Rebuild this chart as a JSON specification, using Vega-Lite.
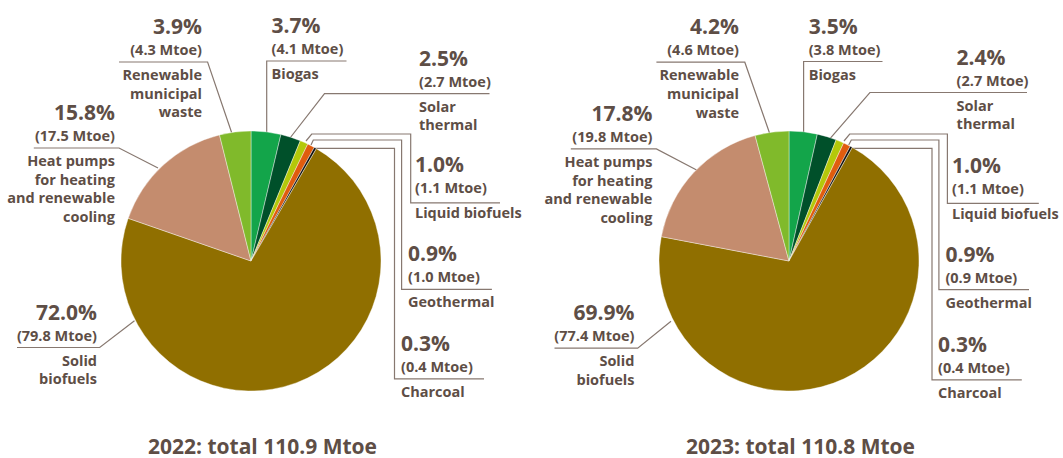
{
  "$schema": "https://vega.github.io/schema/vega-lite/v6.json",
  "padding": 0,
  "background": "#ffffff",
  "config": {"view": {"stroke": null}, "font": "Open Sans"},
  "datasets": {
    "titles": [
      {"year": 2022, "title": "2022: total 110.9 Mtoe"},
      {"year": 2023, "title": "2023: total 110.8 Mtoe"}
    ],
    "rows": [
      {"kind": "slice", "year": 2022, "cat": "Biogas", "ord": 1, "value": 3.7, "pct": "3.7%", "mtoe": "(4.1 Mtoe)", "lines": ["Biogas"], "tx": 20.5, "ty": -200},
      {"kind": "slice", "year": 2022, "cat": "Solar thermal", "ord": 2, "value": 2.5, "pct": "2.5%", "mtoe": "(2.7 Mtoe)", "lines": ["Solar", "thermal"], "tx": 168, "ty": -167.4},
      {"kind": "slice", "year": 2022, "cat": "Liquid biofuels", "ord": 3, "value": 1.0, "pct": "1.0%", "mtoe": "(1.1 Mtoe)", "lines": ["Liquid biofuels"], "tx": 164, "ty": -61},
      {"kind": "slice", "year": 2022, "cat": "Geothermal", "ord": 4, "value": 0.9, "pct": "0.9%", "mtoe": "(1.0 Mtoe)", "lines": ["Geothermal"], "tx": 157, "ty": 28.3},
      {"kind": "slice", "year": 2022, "cat": "Charcoal", "ord": 5, "value": 0.3, "pct": "0.3%", "mtoe": "(0.4 Mtoe)", "lines": ["Charcoal"], "tx": 150, "ty": 118},
      {"kind": "slice", "year": 2022, "cat": "Solid biofuels", "ord": 6, "value": 72.0, "pct": "72.0%", "mtoe": "(79.8 Mtoe)", "lines": ["Solid", "biofuels"], "tx": -154, "ty": 86.5},
      {"kind": "slice", "year": 2022, "cat": "Heat pumps", "ord": 7, "value": 15.8, "pct": "15.8%", "mtoe": "(17.5 Mtoe)", "lines": ["Heat pumps\u00a0", "for heating", "and renewable", "cooling"], "tx": -136, "ty": -113},
      {"kind": "slice", "year": 2022, "cat": "Renewable municipal waste", "ord": 8, "value": 3.9, "pct": "3.9%", "mtoe": "(4.3 Mtoe)", "lines": ["Renewable\u00a0", "municipal\u00a0", "waste"], "tx": -49, "ty": -199},
      {"kind": "slice", "year": 2023, "cat": "Biogas", "ord": 1, "value": 3.5, "pct": "3.5%", "mtoe": "(3.8 Mtoe)", "lines": ["Biogas"], "tx": 19.7, "ty": -199.5},
      {"kind": "slice", "year": 2023, "cat": "Solar thermal", "ord": 2, "value": 2.4, "pct": "2.4%", "mtoe": "(2.7 Mtoe)", "lines": ["Solar", "thermal"], "tx": 167.6, "ty": -168.5},
      {"kind": "slice", "year": 2023, "cat": "Liquid biofuels", "ord": 3, "value": 1.0, "pct": "1.0%", "mtoe": "(1.1 Mtoe)", "lines": ["Liquid biofuels"], "tx": 163, "ty": -60},
      {"kind": "slice", "year": 2023, "cat": "Geothermal", "ord": 4, "value": 0.9, "pct": "0.9%", "mtoe": "(0.9 Mtoe)", "lines": ["Geothermal"], "tx": 156.4, "ty": 28.7},
      {"kind": "slice", "year": 2023, "cat": "Charcoal", "ord": 5, "value": 0.3, "pct": "0.3%", "mtoe": "(0.4 Mtoe)", "lines": ["Charcoal"], "tx": 149, "ty": 118.8},
      {"kind": "slice", "year": 2023, "cat": "Solid biofuels", "ord": 6, "value": 69.9, "pct": "69.9%", "mtoe": "(77.4 Mtoe)", "lines": ["Solid", "biofuels"], "tx": -154.6, "ty": 87.1},
      {"kind": "slice", "year": 2023, "cat": "Heat pumps", "ord": 7, "value": 17.8, "pct": "17.8%", "mtoe": "(19.8 Mtoe)", "lines": ["Heat pumps\u00a0", "for heating", "and renewable", "cooling"], "tx": -136.6, "ty": -112.1},
      {"kind": "slice", "year": 2023, "cat": "Renewable municipal waste", "ord": 8, "value": 4.2, "pct": "4.2%", "mtoe": "(4.6 Mtoe)", "lines": ["Renewable\u00a0", "municipal\u00a0", "waste"], "tx": -50, "ty": -198.8},

      {"kind": "line", "year": 2022, "lid": "rmw", "seq": 1, "lx": -132, "ly": -199},
      {"kind": "line", "year": 2022, "lid": "rmw", "seq": 2, "lx": -43.4, "ly": -199},
      {"kind": "line", "year": 2022, "lid": "rmw", "seq": 3, "lx": -19.4, "ly": -128.5},
      {"kind": "line", "year": 2022, "lid": "bio", "seq": 1, "lx": 95.5, "ly": -200},
      {"kind": "line", "year": 2022, "lid": "bio", "seq": 2, "lx": 15.7, "ly": -200},
      {"kind": "line", "year": 2022, "lid": "bio", "seq": 3, "lx": 15.7, "ly": -128.5},
      {"kind": "line", "year": 2022, "lid": "sol", "seq": 1, "lx": 238.5, "ly": -167.4},
      {"kind": "line", "year": 2022, "lid": "sol", "seq": 2, "lx": 73.5, "ly": -167.4},
      {"kind": "line", "year": 2022, "lid": "sol", "seq": 3, "lx": 39, "ly": -123},
      {"kind": "line", "year": 2022, "lid": "liq", "seq": 1, "lx": 55, "ly": -120},
      {"kind": "line", "year": 2022, "lid": "liq", "seq": 2, "lx": 60.7, "ly": -127},
      {"kind": "line", "year": 2022, "lid": "liq", "seq": 3, "lx": 159.7, "ly": -127},
      {"kind": "line", "year": 2022, "lid": "liq", "seq": 4, "lx": 159.7, "ly": -58.2},
      {"kind": "line", "year": 2022, "lid": "liq", "seq": 5, "lx": 249, "ly": -58.2},
      {"kind": "line", "year": 2022, "lid": "geo", "seq": 1, "lx": 60, "ly": -116},
      {"kind": "line", "year": 2022, "lid": "geo", "seq": 2, "lx": 62.3, "ly": -121},
      {"kind": "line", "year": 2022, "lid": "geo", "seq": 3, "lx": 150.6, "ly": -121},
      {"kind": "line", "year": 2022, "lid": "geo", "seq": 4, "lx": 150.6, "ly": 28.3},
      {"kind": "line", "year": 2022, "lid": "geo", "seq": 5, "lx": 240.9, "ly": 28.3},
      {"kind": "line", "year": 2022, "lid": "cha", "seq": 1, "lx": 64, "ly": -112.7},
      {"kind": "line", "year": 2022, "lid": "cha", "seq": 2, "lx": 143.5, "ly": -112.7},
      {"kind": "line", "year": 2022, "lid": "cha", "seq": 3, "lx": 143.5, "ly": 117.9},
      {"kind": "line", "year": 2022, "lid": "cha", "seq": 4, "lx": 233, "ly": 117.9},
      {"kind": "line", "year": 2022, "lid": "sbf", "seq": 1, "lx": -234, "ly": 86.5},
      {"kind": "line", "year": 2022, "lid": "sbf", "seq": 2, "lx": -151.3, "ly": 86.5},
      {"kind": "line", "year": 2022, "lid": "sbf", "seq": 3, "lx": -116.5, "ly": 59.7},
      {"kind": "line", "year": 2022, "lid": "hp", "seq": 1, "lx": -217.2, "ly": -113},
      {"kind": "line", "year": 2022, "lid": "hp", "seq": 2, "lx": -132, "ly": -113},
      {"kind": "line", "year": 2022, "lid": "hp", "seq": 3, "lx": -93, "ly": -93},

      {"kind": "line", "year": 2023, "lid": "rmw", "seq": 1, "lx": -132.6, "ly": -198.8},
      {"kind": "line", "year": 2023, "lid": "rmw", "seq": 2, "lx": -44.2, "ly": -198.8},
      {"kind": "line", "year": 2023, "lid": "rmw", "seq": 3, "lx": -19.4, "ly": -127.8},
      {"kind": "line", "year": 2023, "lid": "bio", "seq": 1, "lx": 93.5, "ly": -199.5},
      {"kind": "line", "year": 2023, "lid": "bio", "seq": 2, "lx": 14.6, "ly": -199.5},
      {"kind": "line", "year": 2023, "lid": "bio", "seq": 3, "lx": 14.6, "ly": -127.8},
      {"kind": "line", "year": 2023, "lid": "sol", "seq": 1, "lx": 238, "ly": -168.5},
      {"kind": "line", "year": 2023, "lid": "sol", "seq": 2, "lx": 80.9, "ly": -168.5},
      {"kind": "line", "year": 2023, "lid": "sol", "seq": 3, "lx": 41, "ly": -122.3},
      {"kind": "line", "year": 2023, "lid": "liq", "seq": 1, "lx": 55, "ly": -120},
      {"kind": "line", "year": 2023, "lid": "liq", "seq": 2, "lx": 60.7, "ly": -127},
      {"kind": "line", "year": 2023, "lid": "liq", "seq": 3, "lx": 158.4, "ly": -127},
      {"kind": "line", "year": 2023, "lid": "liq", "seq": 4, "lx": 158.4, "ly": -57.7},
      {"kind": "line", "year": 2023, "lid": "liq", "seq": 5, "lx": 249.8, "ly": -57.7},
      {"kind": "line", "year": 2023, "lid": "geo", "seq": 1, "lx": 59.7, "ly": -116},
      {"kind": "line", "year": 2023, "lid": "geo", "seq": 2, "lx": 62.3, "ly": -121},
      {"kind": "line", "year": 2023, "lid": "geo", "seq": 3, "lx": 149.9, "ly": -121},
      {"kind": "line", "year": 2023, "lid": "geo", "seq": 4, "lx": 149.9, "ly": 28.7},
      {"kind": "line", "year": 2023, "lid": "geo", "seq": 5, "lx": 240, "ly": 28.7},
      {"kind": "line", "year": 2023, "lid": "cha", "seq": 1, "lx": 64, "ly": -112.7},
      {"kind": "line", "year": 2023, "lid": "cha", "seq": 2, "lx": 143, "ly": -112.7},
      {"kind": "line", "year": 2023, "lid": "cha", "seq": 3, "lx": 143, "ly": 118.8},
      {"kind": "line", "year": 2023, "lid": "cha", "seq": 4, "lx": 232.8, "ly": 118.8},
      {"kind": "line", "year": 2023, "lid": "sbf", "seq": 1, "lx": -234.5, "ly": 87.1},
      {"kind": "line", "year": 2023, "lid": "sbf", "seq": 2, "lx": -151.3, "ly": 87.1},
      {"kind": "line", "year": 2023, "lid": "sbf", "seq": 3, "lx": -118, "ly": 60.3},
      {"kind": "line", "year": 2023, "lid": "hp", "seq": 1, "lx": -218.2, "ly": -112.1},
      {"kind": "line", "year": 2023, "lid": "hp", "seq": 2, "lx": -132.6, "ly": -112.1},
      {"kind": "line", "year": 2023, "lid": "hp", "seq": 3, "lx": -92.4, "ly": -91}
    ]
  },
  "data": {"name": "rows"},
  "transform": [
    {"lookup": "year", "from": {"data": {"name": "titles"}, "key": "year", "fields": ["title"]}}
  ],
  "facet": {
    "column": {
      "field": "title",
      "type": "nominal",
      "header": {
        "title": null,
        "labelOrient": "bottom",
        "labelFont": "Open Sans",
        "labelFontSize": 21,
        "labelFontWeight": "bold",
        "labelColor": "#5e4e46",
        "labelPadding": 12
      }
    }
  },
  "spacing": 13,
  "spec": {
    "width": 525,
    "height": 425,
    "layer": [
      {
        "transform": [{"filter": "datum.kind == 'line'"}],
        "mark": {"type": "line", "stroke": "#877870", "strokeWidth": 1.2, "interpolate": "linear"},
        "encoding": {
          "x": {"field": "lx", "type": "quantitative", "scale": {"domain": [-251, 274], "nice": false, "zero": false}, "axis": null},
          "y": {"field": "ly", "type": "quantitative", "scale": {"domain": [-261, 164], "nice": false, "zero": false, "reverse": true}, "axis": null},
          "detail": {"field": "lid"},
          "order": {"field": "seq"}
        }
      },
      {
        "transform": [{"filter": "datum.kind == 'slice'"}],
        "mark": {"type": "arc", "radius": 130, "stroke": "#ffffff", "strokeWidth": 0.4},
        "encoding": {
          "x": {"datum": 0, "type": "quantitative"},
          "y": {"datum": 0, "type": "quantitative"},
          "theta": {"field": "value", "type": "quantitative", "stack": true},
          "order": {"field": "ord"},
          "color": {
            "field": "cat",
            "type": "nominal",
            "legend": null,
            "scale": {
              "domain": ["Biogas", "Solar thermal", "Liquid biofuels", "Geothermal", "Charcoal", "Solid biofuels", "Heat pumps", "Renewable municipal waste"],
              "range": ["#13a54a", "#00502a", "#b4c80a", "#e05c0e", "#111111", "#906f00", "#c48c6e", "#80ba2b"]
            }
          }
        }
      },
      {
        "transform": [{"filter": "datum.kind == 'slice' && datum.tx >= 0"}],
        "mark": {"type": "text", "align": "left", "baseline": "alphabetic", "dy": -28, "font": "Open Sans", "fontWeight": "bold", "fontSize": 21, "color": "#5e4e46"},
        "encoding": {
          "x": {"field": "tx", "type": "quantitative"},
          "y": {"field": "ty", "type": "quantitative"},
          "text": {"field": "pct", "type": "nominal"}
        }
      },
      {
        "transform": [{"filter": "datum.kind == 'slice' && datum.tx >= 0"}],
        "mark": {"type": "text", "align": "left", "baseline": "alphabetic", "dy": -7, "font": "Open Sans", "fontWeight": "bold", "fontSize": 14.5, "color": "#5e4e46"},
        "encoding": {
          "x": {"field": "tx", "type": "quantitative"},
          "y": {"field": "ty", "type": "quantitative"},
          "text": {"field": "mtoe", "type": "nominal"}
        }
      },
      {
        "transform": [{"filter": "datum.kind == 'slice' && datum.tx >= 0"}],
        "mark": {"type": "text", "align": "left", "baseline": "alphabetic", "dy": 18, "lineHeight": 18.7, "font": "Open Sans", "fontWeight": "bold", "fontSize": 14.5, "color": "#5e4e46"},
        "encoding": {
          "x": {"field": "tx", "type": "quantitative"},
          "y": {"field": "ty", "type": "quantitative"},
          "text": {"field": "lines", "type": "nominal"}
        }
      },
      {
        "transform": [{"filter": "datum.kind == 'slice' && datum.tx < 0"}],
        "mark": {"type": "text", "align": "right", "baseline": "alphabetic", "dy": -28, "font": "Open Sans", "fontWeight": "bold", "fontSize": 21, "color": "#5e4e46"},
        "encoding": {
          "x": {"field": "tx", "type": "quantitative"},
          "y": {"field": "ty", "type": "quantitative"},
          "text": {"field": "pct", "type": "nominal"}
        }
      },
      {
        "transform": [{"filter": "datum.kind == 'slice' && datum.tx < 0"}],
        "mark": {"type": "text", "align": "right", "baseline": "alphabetic", "dy": -7, "font": "Open Sans", "fontWeight": "bold", "fontSize": 14.5, "color": "#5e4e46"},
        "encoding": {
          "x": {"field": "tx", "type": "quantitative"},
          "y": {"field": "ty", "type": "quantitative"},
          "text": {"field": "mtoe", "type": "nominal"}
        }
      },
      {
        "transform": [{"filter": "datum.kind == 'slice' && datum.tx < 0"}],
        "mark": {"type": "text", "align": "right", "baseline": "alphabetic", "dy": 18, "lineHeight": 18.7, "font": "Open Sans", "fontWeight": "bold", "fontSize": 14.5, "color": "#5e4e46"},
        "encoding": {
          "x": {"field": "tx", "type": "quantitative"},
          "y": {"field": "ty", "type": "quantitative"},
          "text": {"field": "lines", "type": "nominal"}
        }
      }
    ]
  }
}
